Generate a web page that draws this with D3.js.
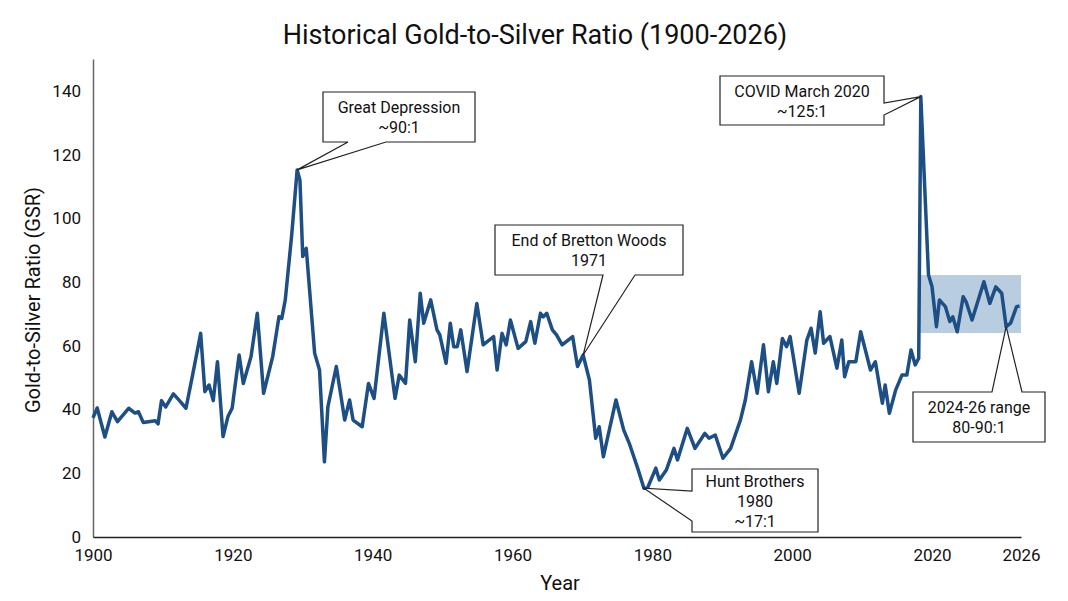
<!DOCTYPE html>
<html>
<head>
<meta charset="utf-8">
<script src="https://cdn.jsdelivr.net/npm/d3@7"></script>
<style>
  body { margin: 0; background: #fff; }
  svg text { font-family: Roboto, "Noto Sans", sans-serif; fill: #111; }
</style>
</head>
<body>
<svg id="chart" width="1068" height="601"></svg>
<script>
// Data
const years = [1900.0,1900.6,1901.7,1902.7,1903.5,1905.1,1906.0,1906.5,1907.2,1908.9,1909.3,1909.8,1910.4,1911.5,1912.5,1913.3,1914.3,1915.4,1916.0,1916.6,1917.2,1917.8,1918.6,1919.3,1919.9,1920.9,1921.5,1922.6,1923.5,1924.4,1925.7,1926.6,1927.0,1927.5,1928.4,1929.2,1929.6,1930.0,1930.5,1931.7,1932.4,1933.1,1933.6,1934.8,1936.0,1936.7,1937.2,1938.5,1939.4,1940.2,1941.6,1943.2,1943.8,1944.7,1945.3,1946.1,1946.8,1947.3,1948.3,1949.2,1949.6,1950.5,1951.1,1951.6,1952.1,1952.6,1953.5,1954.9,1955.8,1957.3,1957.8,1958.5,1959.1,1959.7,1960.8,1961.9,1962.6,1963.2,1964.0,1964.4,1964.9,1965.7,1966.3,1967.1,1968.6,1969.3,1970.1,1971.0,1971.9,1972.4,1973.0,1974.8,1975.9,1976.7,1977.9,1978.8,1979.3,1980.5,1981.0,1982.0,1983.1,1983.6,1985.0,1986.1,1987.5,1988.1,1989.0,1990.1,1991.2,1992.6,1993.3,1994.2,1995.0,1995.9,1996.6,1997.3,1997.8,1998.6,1999.2,1999.7,2001.0,2002.1,2002.7,2003.3,2004.0,2004.5,2005.4,2006.4,2007.1,2007.5,2008.1,2009.1,2009.8,2011.2,2011.9,2012.9,2013.3,2013.9,2014.8,2015.7,2016.4,2017.0,2017.6,2018.1,2018.4,2019.5,2020.0,2020.3,2020.5,2020.9,2021.2,2021.4,2021.7,2022.1,2022.3,2022.7,2023.5,2023.9,2024.3,2024.7,2025.0,2025.3,2025.7,2025.9];
const ratios = [37.4,40.5,31.4,39.3,36.2,40.4,38.9,39.3,35.9,36.5,35.5,42.8,40.8,44.9,42.5,40.4,51.4,63.9,45.6,47.7,42.8,55,31.5,37.8,40.4,57.1,48.2,56.6,70.2,45.1,56.6,69.1,68.6,74.4,94.3,115.2,112,88,90.6,57.7,52.4,23.6,40.9,53.5,36.7,43,36.7,34.6,48.2,43.5,70.2,43.5,50.8,48.2,68.1,55,76.5,67.1,74.4,65,63.4,54.5,67.1,59.7,59.7,65,51.9,73.3,60.3,62.9,52.4,63.9,60.3,68.1,59.2,61.3,67.6,60.8,70.2,69.1,70.2,65,63.4,60.3,62.9,53.5,57.1,49.3,31,34.6,25.2,43,33.6,29.4,21.6,15.3,15.3,21.6,17.9,21,27.8,24.2,34.1,27.8,32.5,31,32,24.7,27.8,36.7,43,55,45.1,60.3,45.6,55,48.2,62.3,59.7,62.9,45.1,61.8,65.5,57.7,70.7,60.8,62.9,53,61.8,50.3,55,55,64.4,52.4,55,42,47.7,38.8,46.1,50.8,50.8,58.7,54,56.1,138.2,82.2,78.6,66,74.4,72.3,67.6,69.1,64.4,75.4,73.8,68.1,80.1,73.3,78.5,76.5,66,67.1,72.3,72.5];
const xTicks = [1900, 1920, 1940, 1960, 1980, 2000, 2020, 2026];
const yTicks = [0, 20, 40, 60, 80, 100, 120, 140];
const rangeYears = [2018.1, 2026];
const rangeValues = [64, 82.2];

// Annotations: anchor in data units, box in pixels, tail side + base points
const notes = [
  { lines: ["Great Depression", "~90:1"], at: [1929.2, 115.2], box: [323, 92, 152, 50], side: "bottom", base: [348, 386] },
  { lines: ["End of Bretton Woods", "1971"], at: [1970.1, 57.1], box: [495, 225, 188, 50], side: "bottom", base: [603, 635] },
  { lines: ["Hunt Brothers", "1980", "~17:1"], at: [1978.8, 15.3], box: [692, 469, 126, 63], side: "left", base: [491, 521] },
  { lines: ["COVID March 2020", "~125:1"], at: [2018.4, 138.2], box: [720, 76, 164, 49], side: "right", base: [103, 115] },
  { lines: ["2024-26 range", "80-90:1"], at: [2025.0, 66], box: [913, 392, 132, 50], side: "top", base: [992, 1022] }
];

const svg = d3.select('#chart');
const plotLeft = 93, plotRight = 1021, plotTop = 59, plotBottom = 537;

// x axis: 1900-2020 compressed, 2020-2026 stretched (as in the source)
const x = d3.scaleLinear().domain([1900, 2020, 2026]).range([plotLeft, 932, plotRight]);
const y = d3.scaleLinear().domain([0, 150]).range([plotBottom, plotTop]);

// Title
svg.append('text').attr('x', 535).attr('y', 44).attr('text-anchor', 'middle')
  .style('font-size', '27px').text('Historical Gold-to-Silver Ratio (1900-2026)');

// Shaded recent range
svg.append('rect')
  .attr('x', x(rangeYears[0])).attr('width', x(rangeYears[1]) - x(rangeYears[0]))
  .attr('y', y(rangeValues[1])).attr('height', y(rangeValues[0]) - y(rangeValues[1]))
  .attr('fill', '#b9cde0');

// Axes
const yAxis = svg.append('g').attr('transform', `translate(${plotLeft},0)`)
  .call(d3.axisLeft(y).tickValues(yTicks).tickSize(0).tickPadding(12));
yAxis.select('.domain').attr('stroke', '#666').attr('stroke-width', 1.5);
yAxis.selectAll('text').style('font-size', '17px').attr('fill', '#111');

const xAxis = svg.append('g').attr('transform', `translate(0,${plotBottom})`)
  .call(d3.axisBottom(x).tickValues(xTicks).tickFormat(d3.format('d')).tickSize(0).tickPadding(12));
xAxis.select('.domain').attr('stroke', '#222').attr('stroke-width', 1.5);
xAxis.selectAll('text').style('font-size', '17px').attr('fill', '#111');

svg.append('text').attr('x', 560).attr('y', 590).attr('text-anchor', 'middle')
  .style('font-size', '20px').text('Year');
svg.append('text').attr('transform', 'translate(40,300) rotate(-90)').attr('text-anchor', 'middle')
  .style('font-size', '20px').text('Gold-to-Silver Ratio (GSR)');

// Line
const line = d3.line().x(d => x(d[0])).y(d => y(d[1]));
svg.append('path')
  .datum(d3.zip(years, ratios))
  .attr('d', line)
  .attr('fill', 'none')
  .attr('stroke', '#1d4f84')
  .attr('stroke-width', 3.5)
  .attr('stroke-linejoin', 'round');

// Callouts
notes.forEach(n => {
  const [bx, by, bw, bh] = n.box;
  const px = x(n.at[0]), py = y(n.at[1]);
  const [b1, b2] = n.base;
  let d;
  if (n.side === 'bottom') {
    d = `M${bx},${by}H${bx + bw}V${by + bh}H${b2}L${px},${py}L${b1},${by + bh}H${bx}Z`;
  } else if (n.side === 'top') {
    d = `M${bx},${by}H${b1}L${px},${py}L${b2},${by}H${bx + bw}V${by + bh}H${bx}Z`;
  } else if (n.side === 'left') {
    d = `M${bx},${by}H${bx + bw}V${by + bh}H${bx}V${b2}L${px},${py}L${bx},${b1}Z`;
  } else {
    d = `M${bx},${by}H${bx + bw}V${b1}L${px},${py}L${bx + bw},${b2}V${by + bh}H${bx}Z`;
  }
  svg.append('path').attr('d', d).attr('fill', '#fff').attr('stroke', '#222').attr('stroke-width', 1.2);
  const lh = 20;
  const startY = by + bh / 2 - (n.lines.length - 1) * lh / 2 + 6;
  n.lines.forEach((t, i) => {
    svg.append('text').attr('x', bx + bw / 2).attr('y', startY + i * lh)
      .attr('text-anchor', 'middle').style('font-size', '16px').text(t);
  });
});
</script>
</body>
</html>
